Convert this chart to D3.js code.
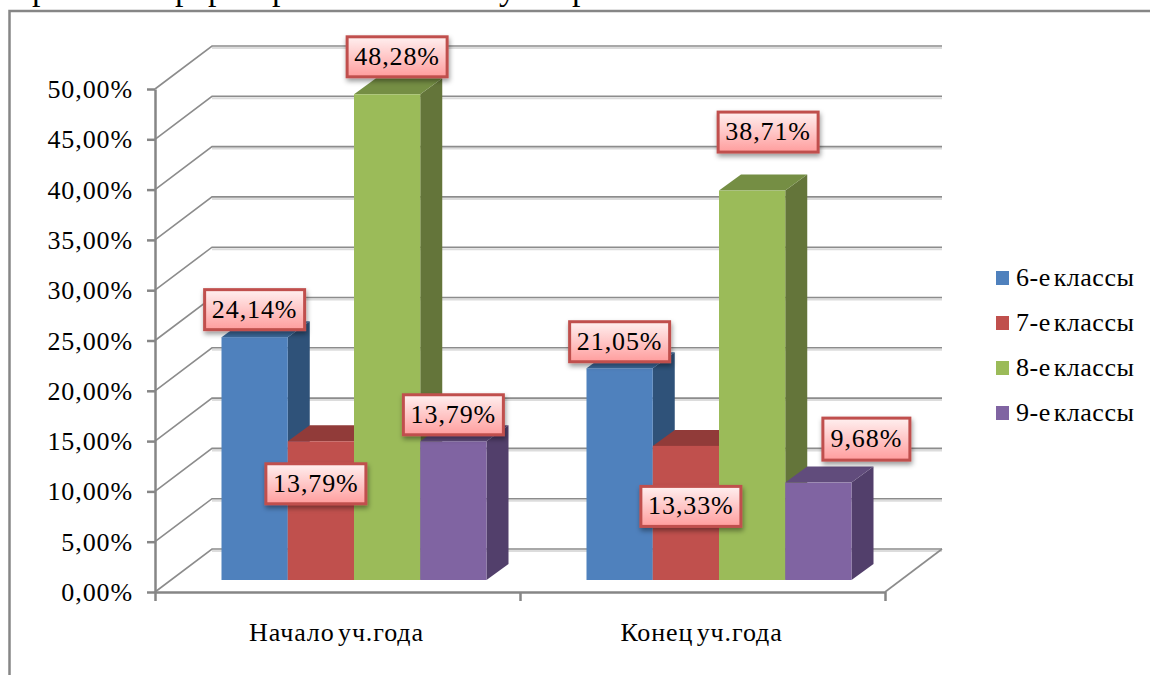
<!DOCTYPE html>
<html>
<head>
<meta charset="utf-8">
<script src="https://cdn.jsdelivr.net/npm/d3@7"></script>
<style>
    html, body { margin: 0; padding: 0; background: #fff; overflow: hidden; }
    text { font-family: "Liberation Serif", serif; fill: #000; }
    .num { font-size: 26px; letter-spacing: 0.9px; }
    .cat { font-size: 26px; letter-spacing: 0.9px; word-spacing: -4px; }
    .leg { font-size: 26px; letter-spacing: 0.5px; word-spacing: -4px; }
    .cut { font-size: 34px; }
</style>
</head>
<body>
<div id="container"></div>
<script>
const categories = ["Начало уч.года", "Конец уч.года"];
const seriesNames = ["6-е классы", "7-е классы", "8-е классы", "9-е классы"];
const values6 = [24.14, 21.05];
const values7 = [13.79, 13.33];
const values8 = [48.28, 38.71];
const values9 = [13.79, 9.68];
const yTicks = [0, 5, 10, 15, 20, 25, 30, 35, 40, 45, 50];

const seriesValues = [values6, values7, values8, values9];
const colors = ["#4f81bd", "#c0504d", "#9bbb59", "#8064a2"];
const sideColors = ["#2f5279", "#7d3432", "#64753a", "#523f6b"];
const topColors = ["#3c6a9c", "#913b39", "#758e44", "#614c7c"];

// where each data label box sits, centre relative to the bar's front top centre
const labelOffsets = [
    [[0, -27.5], [0, -26.5]],
    [[-5, 42.5], [5, 60.5]],
    [[10, -37.5], [16, -58.5]],
    [[0, -26.5], [48, -43.5]]
];

// the line of document text above the chart is cut off by the crop, only descenders show
const cutGlyphs = ["р", "р", "р", "р", "у", "р"];
const cutGlyphX = [32, 175, 208, 272, 499, 572];

const width = 1150;
const height = 675;
const axisColor = "#868686";

// 3d wall offset and bar depth
const wallDx = 57;
const wallDy = 43;
const barDx = 22;
const barDy = 16;
const floorLift = 12;

const y = d3.scaleLinear().domain([0, 50]).range([592, 89]);
const x0 = d3.scaleBand().domain(categories).range([155, 885]);
const x1 = d3.scaleBand().domain(seriesNames).range([66.5, 331.5]);

const comma = d3.formatLocale({ decimal: ",", thousands: " ", grouping: [3], currency: ["", ""] });
const pct = v => comma.format(".2f")(v) + "%";

const svg = d3.create("svg")
    .attr("width", width)
    .attr("height", height)
    .style("display", "block");

const defs = svg.append("defs");
const grad = defs.append("linearGradient")
    .attr("id", "labelFill")
    .attr("x1", 0).attr("y1", 0).attr("x2", 0).attr("y2", 1);
grad.append("stop").attr("offset", "0%").attr("stop-color", "#fff0f0");
grad.append("stop").attr("offset", "100%").attr("stop-color", "#ff9d9d");

const shadow = defs.append("filter")
    .attr("id", "labelShadow")
    .attr("x", "-20%").attr("y", "-20%").attr("width", "140%").attr("height", "150%");
shadow.append("feDropShadow")
    .attr("dx", 1).attr("dy", 3).attr("stdDeviation", 2.5)
    .attr("flood-color", "#000").attr("flood-opacity", 0.4);

svg.append("g").selectAll("text")
    .data(cutGlyphs)
    .join("text")
    .attr("class", "cut")
    .attr("x", (d, i) => cutGlyphX[i])
    .attr("y", 0)
    .text(d => d);

// outer frame, runs off the right and bottom of the crop
svg.append("path")
    .attr("d", `M9.5,${height + 5}V11H${width + 5}`)
    .attr("fill", "none")
    .attr("stroke", axisColor)
    .attr("stroke-width", 2.5);

// back wall gridlines plus the slanted part on the side wall
const grid = svg.append("g").selectAll("g").data(yTicks).join("g");
grid.append("line")
    .attr("x1", x0.range()[0] + wallDx).attr("x2", x0.range()[1] + wallDx)
    .attr("y1", d => y(d) - wallDy + 2).attr("y2", d => y(d) - wallDy + 2)
    .attr("stroke", "#dcdcdc").attr("stroke-width", 2);
grid.append("path")
    .attr("d", d => `M${x0.range()[0]},${y(d)}L${x0.range()[0] + wallDx},${y(d) - wallDy}H${x0.range()[1] + wallDx}`)
    .attr("fill", "none")
    .attr("stroke", "#8c8c8c")
    .attr("stroke-width", 1.6);

// right edge of the floor
svg.append("line")
    .attr("x1", x0.range()[1]).attr("y1", y(0))
    .attr("x2", x0.range()[1] + wallDx).attr("y2", y(0) - wallDy)
    .attr("stroke", "#8c8c8c").attr("stroke-width", 1.6);

// bars, left to right so the next bar covers the side of the previous one
categories.forEach((cat, c) => {
    seriesNames.forEach((name, s) => {
        const v = seriesValues[s][c];
        const left = x0(cat) + x1(name);
        const right = left + x1.bandwidth();
        const base = y(0) - floorLift;
        const top = base - (y(0) - y(v));
        const g = svg.append("g");
        g.append("path")
            .attr("d", `M${right},${base}L${right + barDx},${base - barDy}V${top - barDy}L${right},${top}Z`)
            .attr("fill", sideColors[s]);
        g.append("path")
            .attr("d", `M${left},${top}L${left + barDx},${top - barDy}H${right + barDx}L${right},${top}Z`)
            .attr("fill", topColors[s]);
        g.append("rect")
            .attr("x", left).attr("y", top)
            .attr("width", x1.bandwidth()).attr("height", base - top)
            .attr("fill", colors[s]);
    });
});

// y axis
const yAxis = svg.append("g")
    .attr("transform", `translate(${x0.range()[0]},0)`)
    .call(d3.axisLeft(y).tickValues(yTicks).tickFormat(pct).tickSize(8).tickPadding(14).tickSizeOuter(0));
yAxis.select(".domain").attr("stroke", axisColor).attr("stroke-width", 2.5);
yAxis.selectAll(".tick line").attr("stroke", axisColor).attr("stroke-width", 2.5);
yAxis.selectAll(".tick text")
    .attr("class", "num")
    .attr("dy", "0.33em");
yAxis.attr("font-family", null).attr("font-size", null);

// x axis, ticks sit on the band edges and labels in the band centres
const edges = d3.range(categories.length + 1).map(i => x0.range()[0] + i * x0.step());
const xEdge = d3.scaleIdentity().domain(x0.range());
const xAxis = svg.append("g")
    .attr("transform", `translate(0,${y(0)})`)
    .call(d3.axisBottom(xEdge).tickValues(edges).tickFormat("").tickSize(9).tickSizeOuter(0));
xAxis.select(".domain").attr("stroke", axisColor).attr("stroke-width", 2.5);
xAxis.selectAll(".tick line").attr("stroke", axisColor).attr("stroke-width", 2.5);

svg.append("g").selectAll("text")
    .data(categories)
    .join("text")
    .attr("class", "cat")
    .attr("x", d => x0(d) + x0.bandwidth() / 2 - 1)
    .attr("y", 641)
    .attr("text-anchor", "middle")
    .text(d => d);

// legend
const legend = svg.append("g").selectAll("g")
    .data(seriesNames)
    .join("g")
    .attr("transform", (d, i) => `translate(996,${278 + i * 45})`);
legend.append("rect")
    .attr("y", -7).attr("width", 13).attr("height", 14)
    .attr("fill", (d, i) => colors[i]);
legend.append("text")
    .attr("class", "leg")
    .attr("x", 20).attr("y", 8)
    .text(d => d);

// data labels go on top of everything
categories.forEach((cat, c) => {
    seriesNames.forEach((name, s) => {
        const v = seriesValues[s][c];
        const base = y(0) - floorLift;
        const top = base - (y(0) - y(v));
        const cx = x0(cat) + x1(name) + x1.bandwidth() / 2 + labelOffsets[s][c][0];
        const cy = top + labelOffsets[s][c][1];
        const str = pct(v);
        const boxW = str.length === 6 ? 100 : 87;
        const boxH = str.length === 6 ? 40 : 42;
        const g = svg.append("g").attr("transform", `translate(${cx},${cy})`);
        g.append("rect")
            .attr("x", -boxW / 2).attr("y", -boxH / 2)
            .attr("width", boxW).attr("height", boxH)
            .attr("fill", "url(#labelFill)")
            .attr("stroke", "#c0504d")
            .attr("stroke-width", 3)
            .attr("filter", "url(#labelShadow)");
        g.append("text")
            .attr("class", "num")
            .attr("text-anchor", "middle")
            .attr("y", 8)
            .text(str);
    });
});

document.getElementById("container").append(svg.node());
</script>
</body>
</html>
